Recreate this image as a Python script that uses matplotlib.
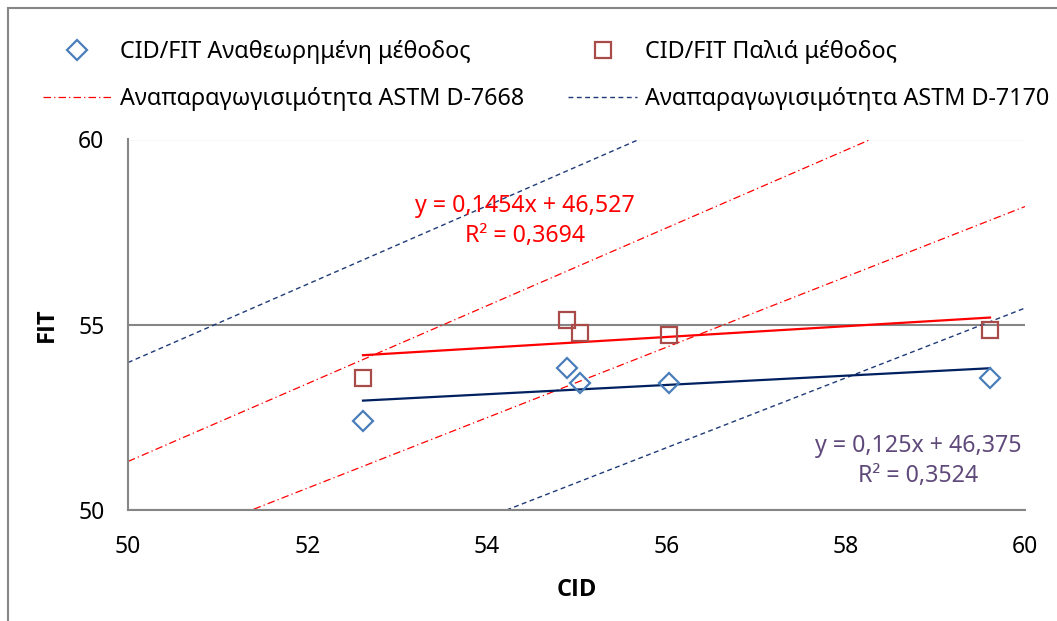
import numpy as np
import matplotlib.pyplot as plt
from matplotlib.patches import Rectangle

plt.rcParams['font.family'] = ['Noto Sans', 'DejaVu Sans']

# Μετρήσεις CID / FIT
cid = [52.62, 54.89, 55.04, 56.03, 59.61]
fit_new = [52.40, 53.83, 53.43, 53.43, 53.56]   # αναθεωρημένη μέθοδος
fit_old = [53.56, 55.13, 54.78, 54.72, 54.86]   # παλιά μέθοδος

# Γραμμές τάσης (όπως δίνονται στις εξισώσεις)
trend_new = (0.125, 46.375)
trend_old = (0.1454, 46.527)

# Αναπαραγωγισιμότητα R στα άκρα του εύρους CID (50, 60)
r_range = [50, 60]
r_7668 = [1.31, 1.81]
r_7170 = [3.98, 4.55]

labels = ["CID/FIT Αναθεωρημένη μέθοδος", "CID/FIT Παλιά μέθοδος",
          "Αναπαραγωγισιμότητα ASTM D-7668", "Αναπαραγωγισιμότητα ASTM D-7170"]

grey = "#868686"
W, H = 1057, 621
fig = plt.figure(figsize=(W / 100, H / 100), dpi=100)
ax = fig.add_axes([128 / W, 1 - 510 / H, 897 / W, 370.5 / H])

# πλαίσιο γραφήματος
fig.patches.append(Rectangle((8 / W, -0.1), 1.2, 1 - 8 / H + 0.1,
                             transform=fig.transFigure, fill=False,
                             edgecolor=grey, lw=1.5, clip_on=False))

xx = np.linspace(50, 60, 50)
R1 = np.interp(xx, r_range, r_7668)
R2 = np.interp(xx, r_range, r_7170)
l_7668, = ax.plot(xx, xx + R1, color="red", lw=0.9, dashes=(6, 2.5, 1, 2.5))
ax.plot(xx, xx - R1, color="red", lw=0.9, dashes=(6, 2.5, 1, 2.5))
l_7170, = ax.plot(xx, xx + R2, color="#1F3A78", lw=1.0, dashes=(3.5, 2.5))
ax.plot(xx, xx - R2, color="#1F3A78", lw=1.0, dashes=(3.5, 2.5))

tx = np.array([min(cid), max(cid)])
ax.plot(tx, trend_old[0] * tx + trend_old[1], color="red", lw=1.6)
ax.plot(tx, trend_new[0] * tx + trend_new[1], color="#002060", lw=1.6)

p_new, = ax.plot(cid, fit_new, ls="none", marker="D", ms=9.8, mfc="none",
                 mec="#4A7EBB", mew=1.6)
p_old, = ax.plot(cid, fit_old, ls="none", marker="s", ms=12, mfc="none",
                 mec="#A94B48", mew=1.6)

ax.text(525 / W, 1 - 221 / H, "y = 0,1454x + 46,527\nR² = 0,3694",
        transform=fig.transFigure, color="red", fontsize=16.7,
        ha="center", va="center", linespacing=1.3)
ax.text(918 / W, 1 - 461 / H, "y = 0,125x + 46,375\nR² = 0,3524",
        transform=fig.transFigure, color="#5F497A", fontsize=16.7,
        ha="center", va="center", linespacing=1.3)

ax.set_xlim(50, 60)
ax.set_ylim(50, 60)
ax.set_xticks([50, 52, 54, 56, 58, 60])
ax.set_yticks([50, 55, 60])
ax.grid(axis="y", color=grey, lw=1.5)
ax.set_axisbelow(True)
for s in ["top", "right"]:
    ax.spines[s].set_visible(False)
for s in ["left", "bottom"]:
    ax.spines[s].set_color(grey)
    ax.spines[s].set_linewidth(1.5)
ax.tick_params(length=0, labelsize=16.5, pad=18)
ax.tick_params(axis="y", pad=17)
ax.set_xlabel("CID", fontsize=17, fontweight="bold", family="Open Sans",
              labelpad=14)
ax.set_ylabel("FIT", fontsize=17, fontweight="bold", family="Open Sans",
              labelpad=14)

fig.legend([p_new, l_7668, p_old, l_7170],
           [labels[0], labels[2], labels[1], labels[3]],
           ncol=2, loc="upper left", bbox_to_anchor=(43 / W, 1 - 40 / H),
           frameon=False, fontsize=16.8, borderpad=0, borderaxespad=0,
           handlelength=2.95, handletextpad=0.35, columnspacing=1.9,
           labelspacing=1.0)

fig.savefig("out.png", dpi=100)
